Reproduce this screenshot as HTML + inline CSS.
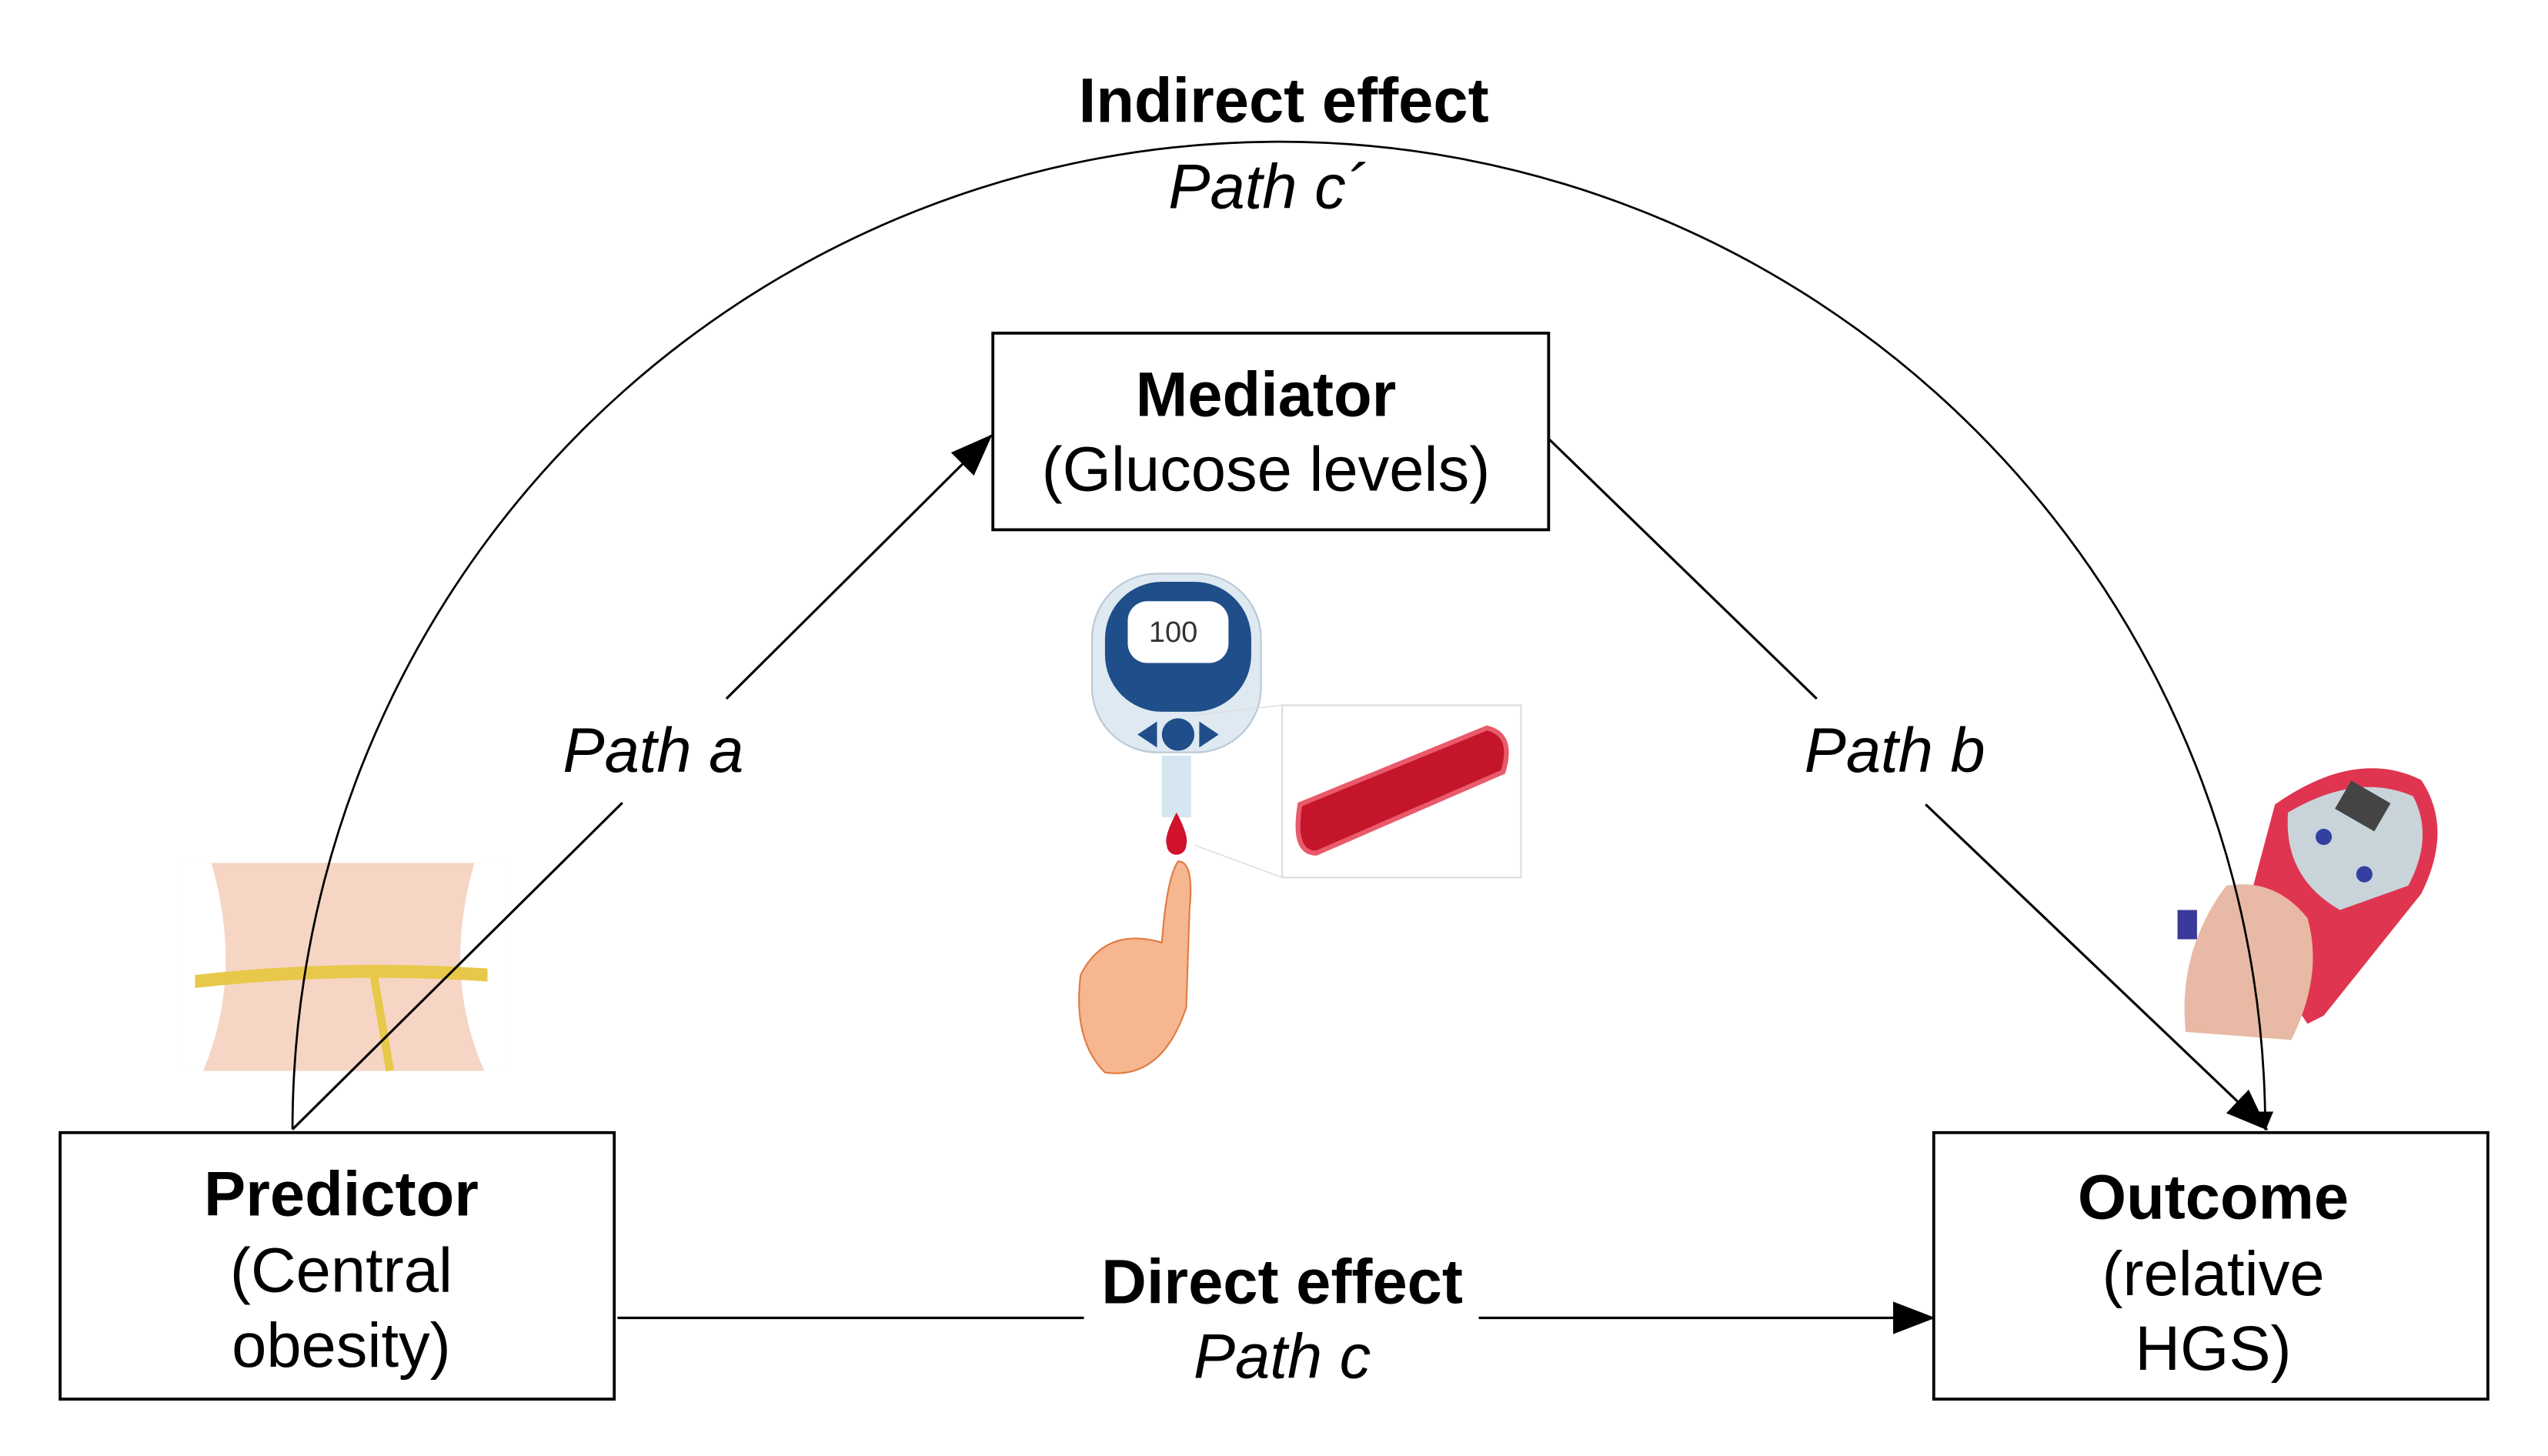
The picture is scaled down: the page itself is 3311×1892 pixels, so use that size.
<!DOCTYPE html>
<html><head><meta charset="utf-8"><style>html,body{margin:0;padding:0;background:#fff}svg{display:block}</style></head>
<body>
<svg width="3311" height="1892" viewBox="0 0 1568 896" xmlns="http://www.w3.org/2000/svg" font-family="Liberation Sans, Arial, sans-serif">
<defs><marker id="ah" markerWidth="12" markerHeight="10" refX="11" refY="5" orient="auto" markerUnits="userSpaceOnUse" viewBox="0 0 12 10"><path d="M0,0 L12,5 L0,10 z" fill="#000"/></marker>
<marker id="ah2" markerWidth="26" markerHeight="20" refX="25" refY="10" orient="auto" markerUnits="userSpaceOnUse" viewBox="0 0 26 20"><path d="M0,0 L26,10 L0,20 z" fill="#000"/></marker></defs>
<rect width="1568" height="896" fill="#fff"/>
<rect x="111" y="531" width="200" height="128" fill="#f6d5c5"/>
<path d="M111,531 L130,531 Q150,600 125,659 L111,659z M311,531 L292,531 Q272,600 298,659 L311,659z" fill="#fff"/>
<path d="M120,600 Q210,590 300,596 L300,604 Q210,598 120,608z" fill="#e8c84a"/>
<path d="M230,600 L240,659" stroke="#e8c84a" stroke-width="5"/>
<rect x="672" y="353" width="104" height="110" rx="40" fill="#dfe9f2" stroke="#b8c8d6"/>
<rect x="680" y="358" width="90" height="80" rx="35" fill="#1f4e8a"/>
<rect x="694" y="370" width="62" height="38" rx="12" fill="#fff"/>
<text x="722" y="395" font-size="18" text-anchor="middle" fill="#333">100</text>
<circle cx="725" cy="452" r="10" fill="#1f4e8a"/><path d="M700,452 L712,444 L712,460z M750,452 L738,444 L738,460z" fill="#1f4e8a"/>
<rect x="715" y="465" width="18" height="38" fill="#d5e6f0"/>
<path d="M724,500 Q732,515 730,520 A6,6 0 0 1 718,520 Q716,515 724,500z" fill="#d0122c"/>
<path d="M725,530 Q735,530 732,560 L730,620 Q715,665 680,660 Q660,640 665,600 Q680,570 715,580 Q718,540 725,530z" fill="#f6b690" stroke="#e07a40"/>
<rect x="789" y="434" width="147" height="106" fill="#fff" stroke="#d8dde2"/>
<path d="M735,440 L789,434 M735,520 L789,540" stroke="#ddd" stroke-width="0.7"/>
<path d="M800,495 L915,448 Q932,452 925,475 L810,525 Q795,525 800,495z" fill="#c4152a" stroke="#e95a6a" stroke-width="3"/>
<path d="M1400,495 Q1450,460 1490,480 Q1510,510 1490,550 L1430,625 L1420,630 L1380,570z" fill="#e03550"/>
<path d="M1408,500 Q1450,475 1485,490 Q1498,515 1482,545 L1440,560 Q1405,540 1408,500z" fill="#c9d4da"/>
<rect x="1440" y="486" width="28" height="20" fill="#444" transform="rotate(30 1454 496)"/>
<circle cx="1430" cy="515" r="5" fill="#3340a0"/><circle cx="1455" cy="538" r="5" fill="#3340a0"/>
<path d="M1345,635 Q1340,585 1370,545 Q1400,540 1420,565 Q1430,600 1410,640z" fill="#e8b9a4"/>
<rect x="1340" y="560" width="12" height="18" fill="#3a3a9a"/>
<path d="M180,695 A607,608 0 0 1 1394,695" fill="none" stroke="#000" stroke-width="1.3" marker-end="url(#ah)"/>
<line x1="180" y1="695" x2="383" y2="494" stroke="#000" stroke-width="1.5"/>
<line x1="447" y1="430" x2="610" y2="268" stroke="#000" stroke-width="1.5" marker-end="url(#ah2)"/>
<line x1="953" y1="270" x2="1118" y2="430" stroke="#000" stroke-width="1.5"/>
<line x1="1185" y1="495" x2="1395" y2="695" stroke="#000" stroke-width="1.5" marker-end="url(#ah2)"/>
<line x1="380" y1="811" x2="667" y2="811" stroke="#000" stroke-width="1.5"/>
<line x1="910" y1="811" x2="1190" y2="811" stroke="#000" stroke-width="1.5" marker-end="url(#ah2)"/>
<rect x="611" y="205" width="342" height="121" fill="#fff" stroke="#000" stroke-width="1.8"/>
<rect x="37" y="697" width="341" height="164" fill="#fff" stroke="#000" stroke-width="1.8"/>
<rect x="1190" y="697" width="341" height="164" fill="#fff" stroke="#000" stroke-width="1.8"/>
<g text-anchor="middle" font-size="38.5">
<text x="790" y="75" font-weight="bold">Indirect effect</text>
<text x="780" y="128" font-style="italic">Path c´</text>
<text x="779" y="256" font-weight="bold">Mediator</text>
<text x="779" y="302">(Glucose levels)</text>
<text x="402" y="475" font-style="italic">Path a</text>
<text x="1166" y="475" font-style="italic">Path b</text>
<text x="210" y="748" font-weight="bold">Predictor</text>
<text x="210" y="795">(Central</text>
<text x="210" y="841">obesity)</text>
<text x="1362" y="750" font-weight="bold">Outcome</text>
<text x="1362" y="797">(relative</text>
<text x="1362" y="843">HGS)</text>
<text x="789" y="802" font-weight="bold">Direct effect</text>
<text x="789" y="848" font-style="italic">Path c</text>
</g>
</svg>
</body></html>
